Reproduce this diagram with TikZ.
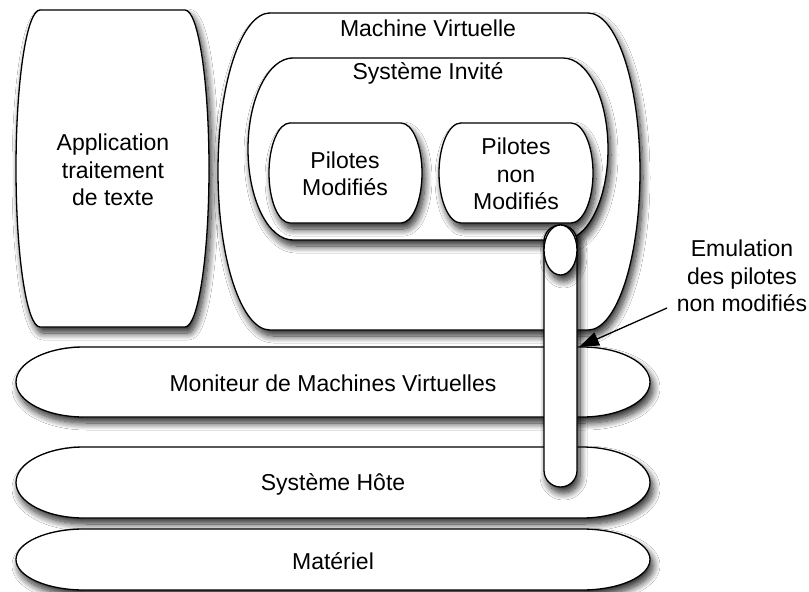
\documentclass[tikz,border=0pt]{standalone}
\usepackage{fontspec}
\setmainfont{Liberation Sans}
\usetikzlibrary{shadows.blur,arrows.meta}
\newcommand{\capsule}[5]{% #1 x1, #2 x2, #3 top, #4 bottom, #5 bulge
  \draw[box] (#1,#3) -- (#2,#3)
   .. controls ({#2+0.552*#5},#3) and ({#2+#5},{(#3+#4)/2-0.552*(#4-#3)/2}) .. ({#2+#5},{(#3+#4)/2})
   .. controls ({#2+#5},{(#3+#4)/2+0.552*(#4-#3)/2}) and ({#2+0.552*#5},#4) .. (#2,#4)
   -- (#1,#4)
   .. controls ({#1-0.552*#5},#4) and ({#1-#5},{(#3+#4)/2+0.552*(#4-#3)/2}) .. ({#1-#5},{(#3+#4)/2})
   .. controls ({#1-#5},{(#3+#4)/2-0.552*(#4-#3)/2}) and ({#1-0.552*#5},#3) .. (#1,#3) -- cycle;}
\begin{document}
\begin{tikzpicture}[x=1pt,y=-1pt,
  box/.style={draw=black, line width=1.3pt, fill=white,
    blur shadow={shadow xshift=3pt, shadow yshift=-6pt, shadow blur steps=12, shadow blur radius=7pt, shadow opacity=85}},
  lbl/.style={font=\fontsize{23}{27.5}\selectfont, align=center, inner sep=2pt},
  pointer/.style={draw=black, line width=1.3pt, -{Triangle[length=20pt,width=14pt,fill=black]}}]
\useasboundingbox (0,0) rectangle (809,592);
\fill[white] (0,0) rectangle (809,592);
% shapes
\capsule{40}{185}{10}{327}{24}
\capsule{270}{588}{13}{330}{52}
\capsule{293}{563}{58}{240}{45}
\capsule{290}{401}{123}{223}{21}
\capsule{461}{571}{123}{223}{22}
\capsule{84}{582}{347}{417}{68}
\capsule{84}{582}{447}{518}{68}
\capsule{84}{582}{529}{590}{68}
\draw[box, rounded corners=16.5pt] (544,225) rectangle (577,487);
\draw[box] (560.5,250) ellipse [x radius=16.5, y radius=25];
% labels
\node[lbl] (app) at (113,170) {Application\\traitement\\de texte};
\node[lbl] (vm) at (428,28) {Machine Virtuelle};
\node[lbl] (guest) at (428,73) {Système Invité};
\node[lbl] (pmod) at (345,174) {Pilotes\\Modifiés};
\node[lbl] (pnmod) at (516,174) {Pilotes\\non\\Modifiés};
\node[lbl] (vmm) at (333,383) {Moniteur de Machines Virtuelles};
\node[lbl] (host) at (333,484) {Système Hôte};
\node[lbl] (hw) at (333,561) {Matériel};
\node[lbl] (emul) at (742,276) {Emulation\\des pilotes\\non modifiés};
\coordinate (astart) at (667,308);
\coordinate (atip) at (579,347);
\draw[pointer] (astart) -- (atip);
\end{tikzpicture}
\end{document}
